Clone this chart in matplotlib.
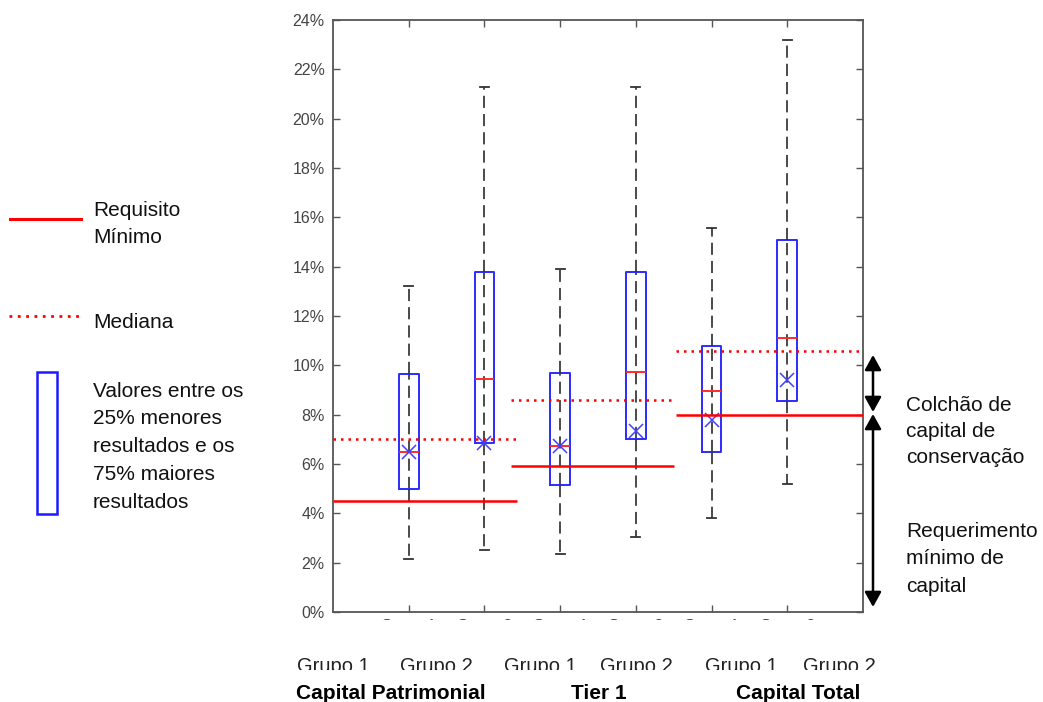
"""Boxplot of capital ratios by group, with regulatory minimums and medians."""

import matplotlib

matplotlib.use("Agg")
from matplotlib import pyplot as plt  # noqa: E402
from matplotlib.lines import Line2D  # noqa: E402
from matplotlib.patches import FancyArrowPatch, Rectangle  # noqa: E402

plt.rcParams["font.family"] = ["Liberation Sans", "DejaVu Sans"]

# --- data (percent) ---
group_labels = ["Grupo 1", "Grupo 2", "Grupo 1", "Grupo 2", "Grupo 1", "Grupo 2"]
category_labels = ["Capital Patrimonial", "Tier 1", "Capital Total"]
q1_values = [5.0, 6.85, 5.15, 7.0, 6.5, 8.55]
q3_values = [9.65, 13.8, 9.7, 13.8, 10.8, 15.1]
median_values = [6.5, 9.45, 6.75, 9.75, 8.95, 11.1]
mean_values = [6.5, 6.85, 6.75, 7.35, 7.8, 9.4]
whisker_low = [2.15, 2.5, 2.35, 3.05, 3.8, 5.2]
whisker_high = [13.2, 21.3, 13.9, 21.3, 15.55, 23.2]
minimum_requirement = [4.5, 5.9, 8.0]
category_median = [7.0, 8.6, 10.6]
y_ticks = list(range(0, 25, 2))

W, H = 1043, 702


def fx(x):
    return x / W


def fy(y):
    return 1 - y / H


fig = plt.figure(figsize=(W / 100, H / 100), dpi=100)
ax = fig.add_axes([fx(333), fy(612), (863 - 333) / W, (612 - 20) / H])

positions = list(range(1, len(q1_values) + 1))
stats = [
    {"med": m, "q1": a, "q3": b, "whislo": lo, "whishi": hi, "mean": mu, "fliers": []}
    for m, a, b, lo, hi, mu in zip(
        median_values, q1_values, q3_values, whisker_low, whisker_high, mean_values
    )
]

dash = (0, (7, 3.5))
# dashed line running through each box
ax.vlines(positions, q1_values, q3_values, colors="#333333", linewidth=1.25,
          linestyles=[dash], zorder=1)
ax.bxp(
    stats,
    positions=positions,
    widths=0.26,
    capwidths=0.12,
    showmeans=True,
    manage_ticks=False,
    boxprops={"color": "#2b2bff", "linewidth": 1.4},
    medianprops={"color": "#ff2a2a", "linewidth": 1.4},
    whiskerprops={"color": "#333333", "linewidth": 1.25, "linestyle": dash},
    capprops={"color": "#333333", "linewidth": 1.3},
    meanprops={"marker": "x", "markersize": 10, "markeredgecolor": "#4040ff",
               "markeredgewidth": 1.1},
)

# regulatory minimum and category median segments
segments = [(0.0, 2.43), (2.35, 4.5), (4.53, 7.0)]
for (x0, x1), req, med in zip(segments, minimum_requirement, category_median):
    ax.hlines(req, x0, x1, colors="#ff0000", linewidth=1.8, zorder=4)
    ax.hlines(med, x0, x1, colors="#ff0000", linewidth=1.8,
              linestyles=[(0, (1, 2))], zorder=4)

ax.set_xlim(0, 7)
ax.set_ylim(0, 24)
ax.set_yticks(y_ticks, labels=[f"{v}%" for v in y_ticks])
ax.set_xticks(positions, labels=group_labels)
ax.tick_params(direction="in", top=True, right=True, length=5, width=1.0,
               color="#555555", labelcolor="#444444")
ax.tick_params(axis="y", labelsize=11.5, pad=6)
ax.tick_params(axis="x", labelsize=11, pad=4)
for spine in ax.spines.values():
    spine.set_color("#555555")
    spine.set_linewidth(1.3)

# bottom tick labels are mostly cut off in the reference
fig.patches.append(Rectangle((0, fy(655)), 1, (655 - 620) / H,
                             transform=fig.transFigure, facecolor="white",
                             edgecolor="none", zorder=5))

# group labels (clipped at the bottom) and category labels
group_centers = [333, 436, 540, 636, 741, 839]
for cx, label in zip(group_centers, group_labels):
    fig.text(fx(cx), fy(672), label, ha="center", va="baseline", fontsize=14.5,
             color="#222222", zorder=4)
fig.patches.append(Rectangle((0, fy(683)), 1, (683 - 669.5) / H,
                             transform=fig.transFigure, facecolor="white",
                             edgecolor="none", zorder=5))
for cx, label in zip([391, 599, 798], category_labels):
    fig.text(fx(cx), fy(699), label, ha="center", va="baseline", fontsize=15,
             fontweight="bold", color="black", zorder=6)

# legend on the left
fig.lines.append(Line2D([fx(10), fx(81)], [fy(219), fy(219)], transform=fig.transFigure,
                        color="#ff0000", linewidth=2.2))
fig.lines.append(Line2D([fx(9), fx(79)], [fy(316), fy(316)], transform=fig.transFigure,
                        color="#ff0000", linewidth=2.0, linestyle=(0, (1, 2))))
fig.patches.append(Rectangle((fx(36.5), fy(514)), 20 / W, (514 - 372) / H,
                             transform=fig.transFigure, facecolor="none",
                             edgecolor="#1a1aff", linewidth=1.8))
legend_text = [
    (216, "Requisito"), (243, "Mínimo"), (328, "Mediana"),
    (397, "Valores entre os"), (424, "25% menores"), (452, "resultados e os"),
    (480, "75% maiores"), (508, "resultados"),
]
for y, line in legend_text:
    fig.text(fx(93), fy(y), line, ha="left", va="baseline", fontsize=15, color="#111111")

# arrows on the right
for y0, y1 in [(355, 412), (414, 607)]:
    fig.patches.append(FancyArrowPatch((fx(873), fy(y0)), (fx(873), fy(y1)),
                                       transform=fig.transFigure,
                                       arrowstyle="<|-|>,head_length=0.9,head_width=0.5",
                                       mutation_scale=10, color="black",
                                       linewidth=1.8, shrinkA=0, shrinkB=0))
right_text = [
    (411, "Colchão de"), (437, "capital de"), (463, "conservação"),
    (537, "Requerimento"), (564, "mínimo de"), (592, "capital"),
]
for y, line in right_text:
    fig.text(fx(906), fy(y), line, ha="left", va="baseline", fontsize=15, color="#111111")

fig.savefig("out.png", dpi=100)
plt.close(fig)
